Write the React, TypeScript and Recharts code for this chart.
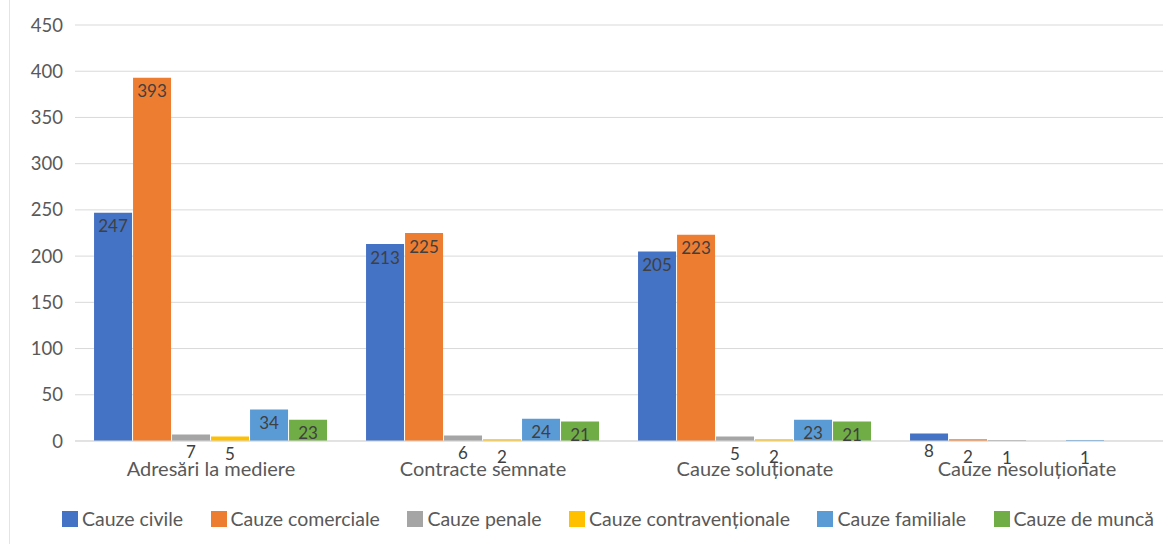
import {
    BarChart,
    Bar,
    XAxis,
    YAxis,
    CartesianGrid,
    Legend,
} from "recharts";

const categories = [
    "Adresări la mediere",
    "Contracte semnate",
    "Cauze soluționate",
    "Cauze nesoluționate",
];

const civile = [247, 213, 205, 8];
const comerciale = [393, 225, 223, 2];
const penale = [7, 6, 5, 1];
const contraventionale = [5, 2, 2, 0];
const familiale = [34, 24, 23, 1];
const munca = [23, 21, 21, 0];

const yTicks = [0, 50, 100, 150, 200, 250, 300, 350, 400, 450];

const SERIES = [
    { key: "civile", name: "Cauze civile", color: "#4472C4" },
    { key: "comerciale", name: "Cauze comerciale", color: "#ED7D31" },
    { key: "penale", name: "Cauze penale", color: "#A5A5A5" },
    { key: "contraventionale", name: "Cauze contravenționale", color: "#FFC000" },
    { key: "familiale", name: "Cauze familiale", color: "#5B9BD5" },
    { key: "munca", name: "Cauze de muncă", color: "#70AD47" },
];

const data = categories.map((name, i) => ({
    name,
    civile: civile[i],
    comerciale: comerciale[i],
    penale: penale[i],
    contraventionale: contraventionale[i],
    familiale: familiale[i],
    munca: munca[i],
}));

const FONT = "Lato, 'Open Sans', sans-serif";

// Excel-style "inside end" labels; small bars push the label below the axis
function BarLabel(props: any) {
    const { x, y, width, height, value } = props;
    if (!value) return null;
    const cy = height >= 15 ? y + 13 : y + 17;
    return (
        <text
            x={x + width / 2}
            y={cy}
            textAnchor="middle"
            dominantBaseline="central"
            fontSize={17}
            fill="#404040"
            fontFamily={FONT}
        >
            {value}
        </text>
    );
}

function LegendContent() {
    return (
        <div
            style={{
                display: "flex",
                justifyContent: "center",
                paddingTop: 26,
                paddingLeft: 53,
                fontFamily: FONT,
                fontSize: 19.5,
                lineHeight: "24px",
                color: "#595959",
            }}
        >
            {SERIES.map((s, i) => (
                <div
                    key={s.key}
                    style={{
                        display: "flex",
                        alignItems: "center",
                        marginRight: i < SERIES.length - 1 ? 27.5 : 0,
                    }}
                >
                    <span
                        style={{
                            width: 16,
                            height: 16,
                            background: s.color,
                            marginRight: 4,
                            display: "inline-block",
                        }}
                    />
                    {s.name}
                </div>
            ))}
        </div>
    );
}

export default function App() {
    return (
        <div
            style={{
                position: "absolute",
                left: 0,
                top: 0,
                width: 1171,
                height: 544,
                background: "#fff",
            }}
        >
            <div
                style={{
                    position: "absolute",
                    left: 9,
                    top: 0,
                    width: 1,
                    height: 544,
                    background: "#e4e4e4",
                }}
            />
            <BarChart
                width={1171}
                height={544}
                data={data}
                margin={{ top: 25, right: 8, left: 0, bottom: 10 }}
                barCategoryGap="7%"
                barGap={1}
            >
                <CartesianGrid vertical={false} stroke="#d9d9d9" />
                <XAxis
                    dataKey="name"
                    height={40}
                    tickLine={false}
                    axisLine={{ stroke: "#d9d9d9" }}
                    tickMargin={15}
                    tick={{ fill: "#595959", fontSize: 20, fontFamily: FONT }}
                />
                <YAxis
                    width={75}
                    domain={[0, 450]}
                    ticks={yTicks}
                    tickLine={false}
                    axisLine={false}
                    tickSize={0}
                    tickMargin={12}
                    tick={{ fill: "#595959", fontSize: 18.5, fontFamily: FONT }}
                />
                <Legend verticalAlign="bottom" height={53} content={<LegendContent />} />
                {SERIES.map((s) => (
                    <Bar
                        key={s.key}
                        dataKey={s.key}
                        name={s.name}
                        fill={s.color}
                        isAnimationActive={false}
                        label={<BarLabel />}
                    />
                ))}
            </BarChart>
        </div>
    );
}
